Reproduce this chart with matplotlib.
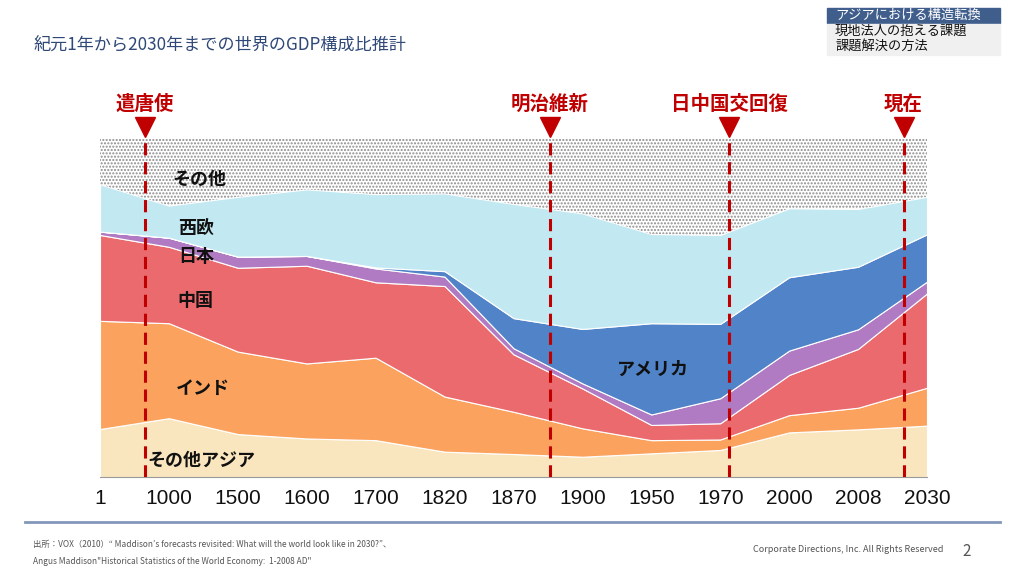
import numpy as np
import matplotlib.pyplot as plt

plt.rcParams['font.family'] = ['Noto Sans CJK JP', 'DejaVu Sans']

years = ['1', '1000', '1500', '1600', '1700', '1820', '1870', '1900', '1950', '1970', '2000', '2008', '2030']

# shares of world GDP (%)
other_asia = [14.2, 17.4, 12.7, 11.4, 10.9, 7.5, 6.8, 6.0, 7.0, 8.0, 13.2, 14.1, 15.2]
india = [32.0, 28.1, 24.4, 22.2, 24.4, 16.3, 12.5, 8.4, 3.9, 3.1, 5.1, 6.4, 11.2]
china = [25.4, 22.6, 24.8, 28.9, 22.3, 32.7, 17.0, 11.8, 4.5, 4.8, 11.9, 17.4, 27.9]
japan = [1.0, 2.7, 3.3, 2.9, 4.1, 2.8, 1.8, 1.5, 3.1, 7.4, 7.2, 5.8, 3.5]
usa = [0.0, 0.0, 0.0, 0.0, 0.3, 1.6, 8.9, 16.1, 27.0, 22.0, 21.7, 18.5, 14.0]
w_europe = [14.0, 9.5, 17.7, 19.7, 21.7, 23.0, 33.8, 34.2, 26.4, 26.3, 20.4, 17.1, 11.1]
others = [13.4, 19.7, 17.1, 14.9, 16.3, 16.1, 19.2, 22.0, 28.1, 28.4, 20.5, 20.7, 17.1]

colors = ['#FAE6BE', '#FBA35E', '#EB6A6E', '#B07BC2', '#5083C8', '#C2E9F2']

# events: (label, position on the category axis)
events = [('遣唐使', 0.65), ('明治維新', 6.53), ('日中国交回復', 9.13), ('現在', 11.66)]

# series labels: (text, x position, y value)
series_labels = [('その他', 1.05, 88), ('西欧', 1.13, 73.5), ('日本', 1.13, 65.3),
                 ('中国', 1.13, 52.3), ('インド', 1.10, 26.3), ('その他アジア', 0.69, 5),
                 ('アメリカ', 7.5, 32)]

fig = plt.figure(figsize=(10.24, 5.76), dpi=100)
ax = fig.add_axes([100 / 1024, 1 - 477 / 576, 827 / 1024, 338 / 576])

x = np.arange(len(years))
ax.stackplot(x, other_asia, india, china, japan, usa, w_europe,
             colors=colors, edgecolor='white', linewidth=0.8)

base = np.sum([other_asia, india, china, japan, usa, w_europe], axis=0)
ax.fill_between(x, base, base + np.array(others), facecolor='white',
                edgecolor='#8c8c8c', hatch='.....', linewidth=0)

ax.set_xlim(0, 12)
ax.set_ylim(0, 100)
ax.set_xticks(x)
ax.set_xticklabels(years, family='Liberation Sans', fontsize=15, color='#111111')
ax.tick_params(axis='x', length=0, pad=9)
ax.set_yticks([])
for s in ['top', 'left', 'right']:
    ax.spines[s].set_visible(False)
ax.spines['bottom'].set_color('#999999')

for txt, xp, yp in series_labels:
    ax.text(xp, yp, txt, fontsize=13, fontweight='bold', color='#111111',
            ha='left', va='center')

red = '#C00000'
for txt, xp in events:
    ax.plot([xp, xp], [0, 100], color=red, lw=2.2, ls=(0, (4, 2.2)), zorder=5)
    ax.plot([xp], [103.6], marker='v', ms=15, color=red, clip_on=False, zorder=6)
    ax.text(xp, 110.3, txt, fontsize=14, fontweight='bold', color=red,
            ha='center', va='center', clip_on=False)

# header
fig.text(33 / 1024, 1 - 45 / 576, '紀元1年から2030年までの世界のGDP構成比推計',
         fontsize=12.3, color='#2F4877', va='center', ha='left')

nav = ['アジアにおける構造転換', '現地法人の抱える課題', '課題解決の方法']
for k, item in enumerate(nav):
    y0 = 1 - (7 + 16 * (k + 1)) / 576
    bg = '#3F5E8C' if k == 0 else '#F0F0F0'
    fc = 'white' if k == 0 else '#111111'
    fig.patches.append(plt.Rectangle((827 / 1024, y0), 173 / 1024, 15 / 576,
                                     transform=fig.transFigure, color=bg))
    fig.text(835 / 1024, y0 + 7.5 / 576, item, fontsize=9.5, color=fc,
             va='center', ha='left')

# footer
fig.add_artist(plt.Line2D([25 / 1024, 1000 / 1024], [1 - 522 / 576] * 2,
                          transform=fig.transFigure, color='#8397BA', lw=2))
fig.text(33 / 1024, 1 - 545 / 576,
         '出所：VOX（2010）“ Maddison’s forecasts revisited: What will the world look like in 2030?”、',
         fontsize=6, color='#555555', va='center')
fig.text(33 / 1024, 1 - 561 / 576,
         'Angus Maddison"Historical Statistics of the World Economy:  1-2008 AD"',
         fontsize=6, color='#555555', va='center')
fig.text(943 / 1024, 1 - 550 / 576, 'Corporate Directions, Inc. All Rights Reserved',
         fontsize=6.5, color='#555555', va='center', ha='right')
fig.text(962 / 1024, 1 - 551 / 576, '2', fontsize=11, color='#555555', va='center')

fig.savefig('out.png', dpi=100)
